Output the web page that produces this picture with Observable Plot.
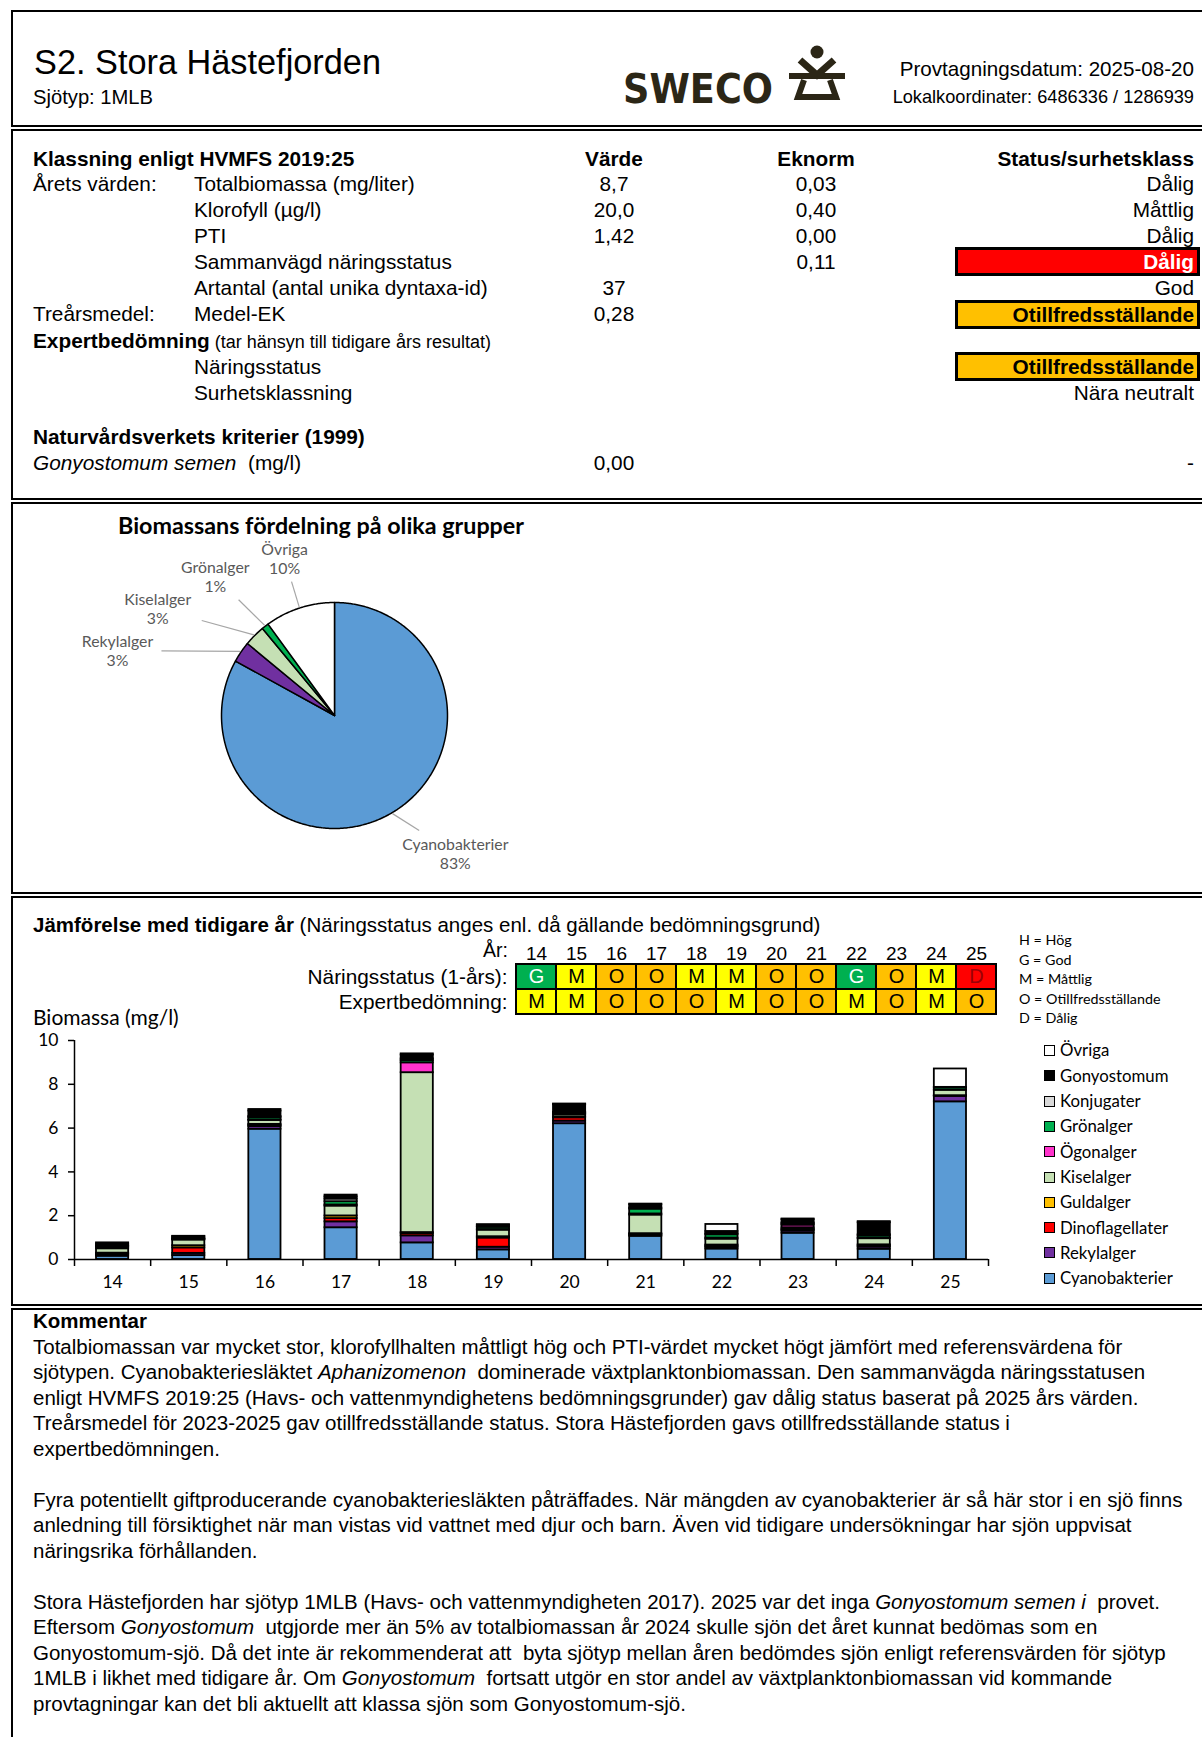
<!DOCTYPE html>
<html><head><meta charset="utf-8">
<script src="https://cdn.jsdelivr.net/npm/d3@7"></script>
<script src="https://cdn.jsdelivr.net/npm/@observablehq/plot@0.6"></script>
<style>
body{margin:0;background:#fff;}
#page{position:relative;width:1202px;height:1737px;overflow:hidden;font-family:"Liberation Sans",Arial,sans-serif;color:#000;background:#fff;}
.t{position:absolute;white-space:nowrap;}
.abs{position:absolute;}
</style></head><body><div id="page"></div>
<script>
// ---------------- DATA ----------------
const tableRowLabels = ["Totalbiomassa (mg/liter)", "Klorofyll (µg/l)", "PTI", "Sammanvägd näringsstatus", "Artantal (antal unika dyntaxa-id)", "Medel-EK"];
const tableValues = ["8,7", "20,0", "1,42", "", "37", "0,28"];
const tableEknorm = ["0,03", "0,40", "0,00", "0,11", "", ""];
const tableStatus = ["Dålig", "Måttlig", "Dålig", "Dålig", "God", "Otillfredsställande"];
const tableHighlight = ["", "", "", "D", "", "O"];

const pieGroups = ["Cyanobakterier", "Rekylalger", "Kiselalger", "Grönalger", "Övriga"];
const piePct = [83, 3, 3, 1, 10];
const pieColors = ["#5B9BD5", "#7030A0", "#C5E0B4", "#00B050", "#FFFFFF"];

const statusYears = ["14", "15", "16", "17", "18", "19", "20", "21", "22", "23", "24", "25"];
const statusRowNames = ["Näringsstatus (1-års):", "Expertbedömning:"];
const naringsstatus = ["G", "M", "O", "O", "M", "M", "O", "O", "G", "O", "M", "D"];
const expertbedomning = ["M", "M", "O", "O", "O", "M", "O", "O", "M", "O", "M", "O"];
const statusCodes = ["H", "G", "M", "O", "D"];
const statusColors = ["#0070C0", "#00B050", "#FFFF00", "#FFC000", "#FF0000"];
const statusLegend = ["H = Hög", "G = God", "M = Måttlig", "O = Otillfredsställande", "D = Dålig"];

const years = [14, 15, 16, 17, 18, 19, 20, 21, 22, 23, 24, 25];
const groups = ["Cyanobakterier", "Rekylalger", "Dinoflagellater", "Guldalger", "Kiselalger", "Ögonalger", "Grönalger", "Konjugater", "Gonyostomum", "Övriga"];
const groupColors = ["#5B9BD5", "#7030A0", "#FF0000", "#FFC000", "#C5E0B4", "#FF33CC", "#00B050", "#D9D9D9", "#000000", "#FFFFFF"];
const cyanobakterier  = [0.15, 0.18, 5.95, 1.45, 0.76, 0.44, 6.20, 1.06, 0.48, 1.20, 0.47, 7.20];
const rekylalger      = [0.06, 0.10, 0.12, 0.27, 0.32, 0.12, 0.12, 0.05, 0.08, 0.10, 0.10, 0.25];
const dinoflagellater = [0.05, 0.25, 0.05, 0.15, 0.10, 0.42, 0.15, 0.04, 0.05, 0.05, 0.05, 0.02];
const guldalger       = [0.03, 0.10, 0.05, 0.12, 0.05, 0.06, 0.05, 0.03, 0.05, 0.03, 0.05, 0.01];
const kiselalger      = [0.20, 0.26, 0.18, 0.45, 7.30, 0.30, 0.10, 0.85, 0.27, 0.07, 0.28, 0.25];
const ogonalger       = [0.07, 0.02, 0.03, 0.05, 0.45, 0.03, 0.02, 0.05, 0.05, 0.12, 0.03, 0.01];
const gronalger       = [0.04, 0.03, 0.10, 0.15, 0.10, 0.10, 0.05, 0.22, 0.15, 0.05, 0.10, 0.10];
const konjugater      = [0.03, 0.02, 0.05, 0.12, 0.08, 0.03, 0.03, 0.05, 0.05, 0.05, 0.05, 0.02];
const gonyostomum     = [0.08, 0.08, 0.25, 0.10, 0.18, 0.07, 0.35, 0.15, 0.10, 0.15, 0.55, 0.00];
const ovriga          = [0.05, 0.02, 0.07, 0.08, 0.05, 0.02, 0.03, 0.03, 0.32, 0.03, 0.05, 0.84];
const groupSeries = [cyanobakterier, rekylalger, dinoflagellater, guldalger, kiselalger, ogonalger, gronalger, konjugater, gonyostomum, ovriga];

// ---------------- LAYOUT HELPERS ----------------
const page = document.getElementById("page");
function box(top, height) {
  const d = document.createElement("div");
  d.className = "abs";
  d.style.cssText += `left:11px;top:${top}px;width:1200px;height:${height}px;border:2px solid #000;border-right:none;box-sizing:border-box;`;
  page.appendChild(d);
}
function T(html, x, y, o = {}) {
  const s = o.size || 20.8;
  const d = document.createElement("div");
  d.className = "t";
  d.innerHTML = html;
  d.style.fontSize = s + "px";
  d.style.lineHeight = Math.round(s * 1.2) + "px";
  d.style.top = (y - s * 0.6) + "px";
  if (o.font) d.style.fontFamily = o.font;
  if (o.bold) d.style.fontWeight = "bold";
  if (o.color) d.style.color = o.color;
  if (o.align === "right") d.style.right = (1202 - x) + "px";
  else if (o.align === "center") { d.style.left = x + "px"; d.style.transform = "translateX(-50%)"; }
  else d.style.left = x + "px";
  page.appendChild(d);
  return d;
}
function place(el, left, top) { el.style.position = "absolute"; el.style.left = left + "px"; el.style.top = top + "px"; page.appendChild(el); }

box(10, 117);
box(129, 371);
box(502, 392);
box(896, 410);
box(1308, 440);

// ---------------- HEADER ----------------
T("S2. Stora Hästefjorden", 34, 63, {size: 34.3});
T("Sjötyp: 1MLB", 33, 97, {size: 20.2});
T("Provtagningsdatum: 2025-08-20", 1194, 68, {size: 20.6, align: "right"});
T("Lokalkoordinater: 6486336 / 1286939", 1194, 97, {size: 18.2, align: "right"});
const logo = document.createElement("div");
logo.innerHTML = `<svg width="240" height="72" xmlns="http://www.w3.org/2000/svg">
 <text x="8" y="63" font-family="DejaVu Sans" font-weight="bold" font-size="40" textLength="150" lengthAdjust="spacingAndGlyphs" fill="#2b2616">SWECO</text>
 <circle cx="202" cy="12" r="6.5" fill="#2b2616"/>
 <path d="M185,20 L202,35 L219,20" stroke="#2b2616" stroke-width="7" fill="none"/>
 <path d="M174,36 L230,36" stroke="#2b2616" stroke-width="6"/>
 <path d="M189,40 L183,57 L221,57 L215,40" stroke="#2b2616" stroke-width="6" fill="none" stroke-linejoin="miter"/>
</svg>`;
place(logo, 615, 40);

// ---------------- TABLE ----------------
const rowY = [183, 209, 235, 261, 287, 313];
T("Klassning enligt HVMFS 2019:25", 33, 158, {bold: true});
T("Värde", 614, 158, {bold: true, align: "center"});
T("Eknorm", 816, 158, {bold: true, align: "center"});
T("Status/surhetsklass", 1194, 158, {bold: true, align: "right"});
T("Årets värden:", 33, 183);
T("Treårsmedel:", 33, 313);
function sbox(text, top, bg, color) {
  const d = document.createElement("div");
  d.className = "abs";
  d.style.cssText += `left:955px;top:${top}px;width:245px;height:29px;border:3px solid #000;box-sizing:border-box;background:${bg};color:${color};font-weight:bold;font-size:20.8px;line-height:23px;text-align:right;padding-right:3px;`;
  d.textContent = text;
  page.appendChild(d);
}
tableRowLabels.forEach((lab, i) => {
  const y = rowY[i];
  T(lab, 194, y);
  if (tableValues[i]) T(tableValues[i], 614, y, {align: "center"});
  if (tableEknorm[i]) T(tableEknorm[i], 816, y, {align: "center"});
  if (tableHighlight[i] === "D") sbox(tableStatus[i], y - 14, "#FF0000", "#FFFFFF");
  else if (tableHighlight[i] === "O") sbox(tableStatus[i], y - 13, "#FFC000", "#000000");
  else T(tableStatus[i], 1194, y, {align: "right"});
});
T('<b>Expertbedömning</b><span style="font-size:18px"> (tar hänsyn till tidigare års resultat)</span>', 33, 340);
T("Näringsstatus", 194, 366);
sbox("Otillfredsställande", 352, "#FFC000", "#000000");
T("Surhetsklassning", 194, 392);
T("Nära neutralt", 1194, 392, {align: "right"});
T("Naturvårdsverkets kriterier (1999)", 33, 436, {bold: true});
T("<i>Gonyostomum semen</i>&nbsp; (mg/l)", 33, 462);
T("0,00", 614, 462, {align: "center"});
T("-", 1194, 462, {align: "right"});

// ---------------- PIE ----------------
T("Biomassans fördelning på olika grupper", 118, 525, {size: 23.3, bold: true, font: "Lato, sans-serif"});
const R = 113;
const arcs = d3.pie().sort(null).value(d => d)(piePct);
const slicePts = arcs.flatMap((a, i) => {
  const n = Math.max(2, Math.ceil((a.endAngle - a.startAngle) / 0.01));
  const pts = [{name: pieGroups[i], x: 0, y: 0}];
  for (let k = 0; k <= n; k++) {
    const t = a.startAngle + (a.endAngle - a.startAngle) * k / n;
    pts.push({name: pieGroups[i], x: R * Math.sin(t), y: -R * Math.cos(t)});
  }
  return pts;
});
const mids = arcs.map(a => (a.startAngle + a.endAngle) / 2);
const la = mids.slice();
const order = d3.range(la.length).sort((a, b) => la[a] - la[b]);
const minSep = 18 * Math.PI / 180;
for (let it = 0; it < 300; it++) {
  for (let j = 1; j < order.length; j++) {
    const a = order[j - 1], b = order[j];
    const d = la[b] - la[a];
    if (d < minSep) { const p = (minSep - d) / 2; la[a] -= p; la[b] += p; }
  }
}
const pieLabels = arcs.map((a, i) => {
  const x = 2.1 * R * Math.sin(la[i]), y = -1.42 * R * Math.cos(la[i]);
  const px = (R + 1) * Math.sin(mids[i]), py = -(R + 1) * Math.cos(mids[i]);
  const vx = x - px, vy = y - py;
  const w = pieGroups[i].length * 4.0 + 4, h = 23;
  const k = Math.min(Math.abs(vx) > 0 ? w / Math.abs(vx) : 1, Math.abs(vy) > 0 ? h / Math.abs(vy) : 1);
  return {name: pieGroups[i], pct: piePct[i], x, y, px, py, ex: x - vx * k, ey: y - vy * k};
});
const pie = Plot.plot({
  width: 700, height: 350, marginTop: 0, marginBottom: 0, marginLeft: 0, marginRight: 0,
  style: {fontFamily: "Lato, sans-serif", fontSize: "15.8px", background: "transparent", overflow: "visible"},
  x: {domain: [-334, 366], axis: null},
  y: {domain: [-175, 175], range: [0, 350], axis: null},
  color: {domain: pieGroups, range: pieColors},
  marks: [
    Plot.line(slicePts, {x: "x", y: "y", z: "name", fill: "name", stroke: "#000", strokeWidth: 1.5, curve: "linear-closed"}),
    Plot.link(pieLabels, {x1: "px", y1: "py", x2: "ex", y2: "ey", stroke: "#A6A6A6", strokeWidth: 1.2}),
    Plot.text(pieLabels, {x: "x", y: "y", text: d => `${d.name}\n${d.pct}%`, fill: "#595959", lineHeight: 1.2})
  ]
});
place(pie, 0, 540);

// ---------------- STATUS GRID ----------------
T('<b>Jämförelse med tidigare år</b> (Näringsstatus anges enl. då gällande bedömningsgrund)', 33, 924, {size: 20.5});
T("År:", 508, 951, {size: 19.5, align: "right"});
const statusRows = statusYears.flatMap((y, i) => [
  {year: y, row: statusRowNames[0], code: naringsstatus[i]},
  {year: y, row: statusRowNames[1], code: expertbedomning[i]}
]);
const grid = Plot.plot({
  width: 1010, height: 80, marginLeft: 513, marginRight: 12, marginTop: 29, marginBottom: 1,
  style: {fontFamily: '"Liberation Sans", Arial, sans-serif', fontSize: "20px", color: "#000", background: "transparent", overflow: "visible"},
  x: {domain: statusYears, padding: 0},
  y: {domain: statusRowNames, padding: 0},
  color: {domain: statusCodes, range: statusColors},
  marks: [
    Plot.cell(statusRows, {x: "year", y: "row", fill: "code", stroke: "#000", strokeWidth: 2}),
    Plot.text(statusRows.filter(d => d.code === "G"), {x: "year", y: "row", text: "code", fill: "#FFFFFF", fontSize: 20}),
    Plot.text(statusRows.filter(d => d.code === "M" || d.code === "O" || d.code === "H"), {x: "year", y: "row", text: "code", fill: "#000000", fontSize: 20}),
    Plot.text(statusRows.filter(d => d.code === "D"), {x: "year", y: "row", text: "code", fill: "#9C0006", fontSize: 20}),
    Plot.axisX({anchor: "top", tickSize: 0, tickPadding: 5, label: null, fontSize: 19}),
    Plot.axisY({anchor: "left", tickSize: 0, tickPadding: 6, label: null, fontSize: 20.8})
  ]
});
place(grid, 0, 935);
statusLegend.forEach((s, i) => T(s, 1019, 940 + i * 19.5, {size: 14.3, font: "Lato, sans-serif"}));

// ---------------- STACKED BARS ----------------
T("Biomassa (mg/l)", 33, 1017, {size: 21, font: "Lato, sans-serif"});
const bioRows = groups.flatMap((g, gi) => years.map((yr, i) => ({year: yr, group: g, value: groupSeries[gi][i]})));
const bars = Plot.plot({
  width: 1000, height: 267, marginLeft: 74, marginRight: 12, marginTop: 12, marginBottom: 36,
  style: {fontFamily: "Lato, sans-serif", fontSize: "17.5px", color: "#000", background: "transparent", overflow: "visible"},
  x: {domain: [14, 26]},
  y: {domain: [0, 10]},
  color: {domain: groups, range: groupColors},
  marks: [
    Plot.rectY(bioRows, {x: "year", interval: 1, y: "value", fill: "group", order: groups, insetLeft: 22, insetRight: 22, stroke: "#000", strokeWidth: 1.8}),
    Plot.ruleY([0], {strokeWidth: 1.5}),
    Plot.ruleX([14], {y1: 0, y2: 10, strokeWidth: 1.5}),
    Plot.axisY({ticks: d3.range(0, 11, 2), tickSize: 6, tickPadding: 10, strokeWidth: 1.5, label: null}),
    Plot.axisX({ticks: d3.range(14, 27), tickSize: 7, tickFormat: () => "", strokeWidth: 1.5, label: null}),
    Plot.axisX({ticks: years.map(y => y + 0.5), tickSize: 0, tickPadding: 16, tickFormat: d => String(Math.round(d - 0.5)), label: null})
  ]
});
place(bars, 0, 1028);

groups.slice().reverse().forEach((g, i) => {
  const y = 1050.5 + i * 25.3;
  const sq = document.createElement("div");
  sq.style.cssText = `width:11px;height:11px;border:1px solid #000;box-sizing:border-box;background:${groupColors[groups.indexOf(g)]};`;
  place(sq, 1044, y - 5.5);
  T(g, 1060, y, {size: 16.8, font: "Lato, sans-serif"});
});

// ---------------- COMMENT ----------------
const comment = document.createElement("div");
comment.style.cssText = "font-size:20.5px;line-height:25.5px;white-space:nowrap;";
comment.innerHTML = `<b>Kommentar</b><br>Totalbiomassan var mycket stor, klorofyllhalten måttligt hög och PTI-värdet mycket högt jämfört med referensvärdena för<br>sjötypen. Cyanobakteriesläktet <i>Aphanizomenon</i>&nbsp; dominerade växtplanktonbiomassan. Den sammanvägda näringsstatusen<br>enligt HVMFS 2019:25 (Havs- och vattenmyndighetens bedömningsgrunder) gav dålig status baserat på 2025 års värden.<br>Treårsmedel för 2023-2025 gav otillfredsställande status. Stora Hästefjorden gavs otillfredsställande status i<br>expertbedömningen.<br><br>Fyra potentiellt giftproducerande cyanobakteriesläkten påträffades. När mängden av cyanobakterier är så här stor i en sjö finns<br>anledning till försiktighet när man vistas vid vattnet med djur och barn. Även vid tidigare undersökningar har sjön uppvisat<br>näringsrika förhållanden.<br><br>Stora Hästefjorden har sjötyp 1MLB (Havs- och vattenmyndigheten 2017). 2025 var det inga <i>Gonyostomum semen i</i>&nbsp; provet.<br>Eftersom <i>Gonyostomum</i>&nbsp; utgjorde mer än 5% av totalbiomassan år 2024 skulle sjön det året kunnat bedömas som en<br>Gonyostomum-sjö. Då det inte är rekommenderat att&nbsp; byta sjötyp mellan åren bedömdes sjön enligt referensvärden för sjötyp<br>1MLB i likhet med tidigare år. Om <i>Gonyostomum</i>&nbsp; fortsatt utgör en stor andel av växtplanktonbiomassan vid kommande<br>provtagningar kan det bli aktuellt att klassa sjön som Gonyostomum-sjö.`;
place(comment, 33, 1308);
</script>
</body></html>
